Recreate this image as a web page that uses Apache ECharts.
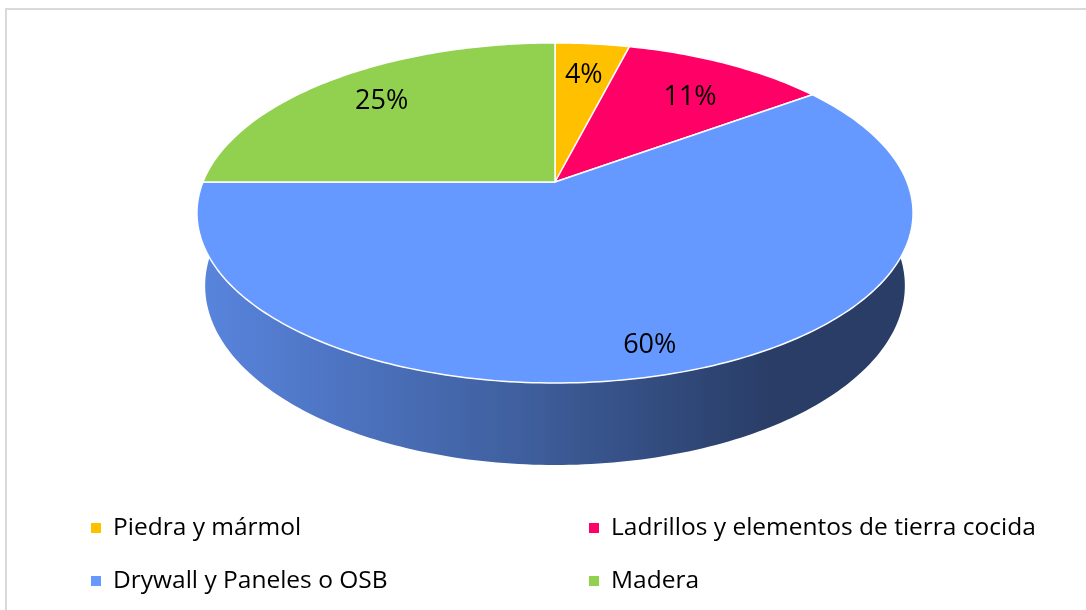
<!DOCTYPE html>
<html>
<head>
<meta charset="utf-8">
<script src="https://cdn.jsdelivr.net/npm/echarts@6/dist/echarts.min.js"></script>
<style>
  html, body { margin: 0; padding: 0; background: #ffffff; }
  #chart { width: 1086px; height: 610px; }
</style>
</head>
<body>
<div id="chart"></div>
<script>
// Material shares (percent of total)
const categories = [
  'Piedra y mármol',
  'Ladrillos y elementos de tierra cocida',
  'Drywall y Paneles o OSB',
  'Madera'
];
const shares = [4, 11, 60, 25];
const colors = ['#FFC000', '#FF0066', '#6699FF', '#92D050'];

// Perspective camera for the tilted disc
const CX = 555, CY = 182;        // projected disc centre
const F = 1710;                  // focal scale
const D = 4.857;                 // camera distance (disc radius = 1)
const TILT = Math.asin(0.467);   // camera elevation
const SIN_T = Math.sin(TILT), COS_T = Math.cos(TILT);
const H = 0.236;                 // disc thickness
// label placement on the top face: radius fraction and angular nudge (radians)
const LABEL_R = [0.74, 0.71, 0.87, 0.765];
const LABEL_NUDGE = [0, 0.042, 0.049, 0];
const FONT = '"Open Sans", "Noto Sans", sans-serif';

function project(r, theta, y) {
  // theta: clockwise from the back (12 o'clock); y: 0 = top face, -H = bottom face
  const X = r * Math.sin(theta);
  const Z = -r * Math.cos(theta);
  const depth = D - y * SIN_T - Z * COS_T;
  const ys = y * COS_T - Z * SIN_T;
  return [CX + F * X / depth, CY - F * ys / depth];
}

const total = shares.reduce((a, b) => a + b, 0);
function sliceAngles(i) {
  let before = 0;
  for (let k = 0; k < i; k++) before += shares[k];
  const a0 = before / total * Math.PI * 2;
  const a1 = (before + shares[i]) / total * Math.PI * 2;
  return [a0, a1];
}
function arc(a0, a1, y) {
  const n = Math.max(8, Math.ceil((a1 - a0) / (Math.PI / 180)));
  const pts = [];
  for (let k = 0; k <= n; k++) pts.push(project(1, a0 + (a1 - a0) * k / n, y));
  return pts;
}
function shade(hex, f) {
  const n = parseInt(hex.slice(1), 16);
  const r = Math.round(((n >> 16) & 255) * f);
  const g = Math.round(((n >> 8) & 255) * f);
  const b = Math.round((n & 255) * f);
  return 'rgb(' + r + ',' + g + ',' + b + ')';
}

// horizontal extent of the disc outline, for the side lighting gradient
const edgeX = (function () {
  let lo = Infinity, hi = -Infinity;
  arc(0, Math.PI * 2, 0).forEach(p => { lo = Math.min(lo, p[0]); hi = Math.max(hi, p[0]); });
  return [lo, hi];
})();

const sliceData = shares.map((v, i) => [categories[i], v]);

function renderSide(params, api) {
  const i = params.dataIndex;
  const [a0, a1] = sliceAngles(i);
  const top = arc(a0, a1, 0);
  const bottom = arc(a0, a1, -H).reverse();
  const base = colors[i];
  return {
    type: 'polygon',
    shape: { points: top.concat(bottom) },
    style: {
      fill: new echarts.graphic.LinearGradient(edgeX[0], 0, edgeX[1], 0, [
        { offset: 0, color: shade(base, 0.87) },
        { offset: 0.45, color: shade(base, 0.62) },
        { offset: 0.8, color: shade(base, 0.40) },
        { offset: 1, color: shade(base, 0.40) }
      ], true),
      stroke: null
    }
  };
}

function renderTop(params, api) {
  const i = params.dataIndex;
  const [a0, a1] = sliceAngles(i);
  const pts = [project(0, 0, 0)].concat(arc(a0, a1, 0));
  const mid = (a0 + a1) / 2 + LABEL_NUDGE[i];
  const lp = project(LABEL_R[i], mid, 0);
  return {
    type: 'group',
    children: [
      {
        type: 'polygon',
        shape: { points: pts },
        style: { fill: colors[i], stroke: '#ffffff', lineWidth: 1.5, lineJoin: 'round' }
      },
      {
        type: 'text',
        z2: 10,
        style: {
          x: lp[0], y: lp[1],
          text: api.value(1) + '%',
          fill: '#000000',
          fontSize: 27,
          fontFamily: FONT,
          align: 'center',
          verticalAlign: 'middle'
        }
      }
    ]
  };
}

// legend: two columns, two rows
const legendCol = [91, 589];
const legendRow = [528, 581];
const legendGraphics = [];
categories.forEach((name, i) => {
  const col = i % 2, row = Math.floor(i / 2);
  legendGraphics.push({
    type: 'rect',
    shape: { x: legendCol[col], y: legendRow[row] - 5, width: 10, height: 10 },
    style: { fill: colors[i] }
  });
  legendGraphics.push({
    type: 'text',
    style: {
      x: legendCol[col] + 22, y: legendRow[row],
      text: name,
      fill: '#000000',
      fontSize: 24.5,
      fontFamily: FONT,
      verticalAlign: 'middle'
    }
  });
});

const chart = echarts.init(document.getElementById('chart'), null, { renderer: 'canvas' });
chart.setOption({
  backgroundColor: '#ffffff',
  animation: false,
  graphic: [
    {
      type: 'rect',
      z: -10,
      shape: { x: 6, y: 9, width: 1200, height: 700 },
      style: { fill: '#ffffff', stroke: '#d9d9d9', lineWidth: 2 }
    }
  ].concat(legendGraphics),
  series: [
    {
      type: 'custom',
      name: 'side',
      coordinateSystem: 'none',
      z: 1,
      silent: true,
      data: sliceData,
      renderItem: renderSide
    },
    {
      type: 'custom',
      name: 'top',
      coordinateSystem: 'none',
      z: 2,
      silent: true,
      data: sliceData,
      renderItem: renderTop
    }
  ]
});
</script>
</body>
</html>
